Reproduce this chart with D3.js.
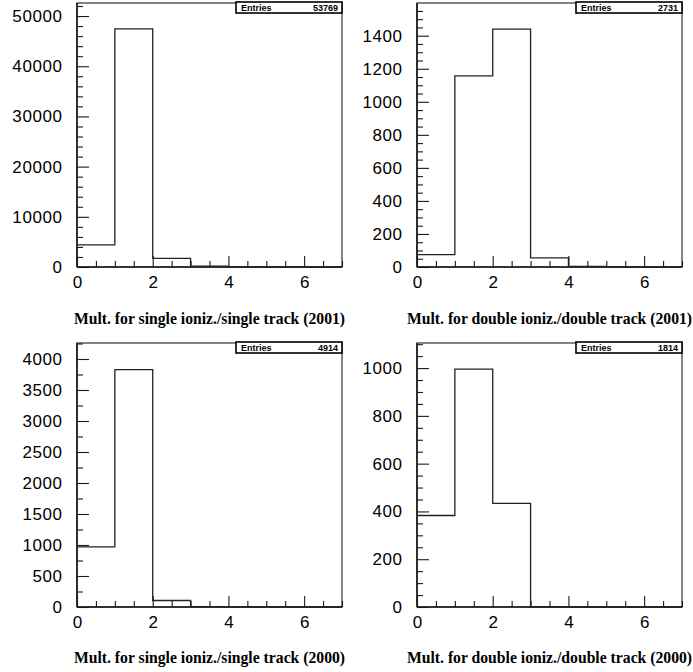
<!DOCTYPE html>
<html>
<head>
<meta charset="utf-8">
<script src="https://cdn.jsdelivr.net/npm/d3@7/dist/d3.min.js"></script>
<style>
  html, body { margin: 0; padding: 0; background: #fff; }
  svg { display: block; }
</style>
</head>
<body>
<script>
// ---- data ----
const binEdges = [0, 1, 2, 3, 4, 5, 6, 7];
const single2001 = [4400, 47450, 1700, 180, 30, 7, 2];
const double2001 = [75, 1157, 1440, 55, 3, 1, 0];
const single2000 = [970, 3830, 105, 6, 2, 1, 0];
const double2000 = [383, 996, 434, 1, 0, 0, 0];
const entries = [53769, 2731, 4914, 1814];
const titles = [
  "Mult. for single ioniz./single track (2001)",
  "Mult. for double ioniz./double track (2001)",
  "Mult. for single ioniz./single track (2000)",
  "Mult. for double ioniz./double track (2000)"
];
const xTickLabels = [0, 2, 4, 6];
const yTicks1 = [0, 10000, 20000, 30000, 40000, 50000];
const yTicks2 = [0, 200, 400, 600, 800, 1000, 1200, 1400];
const yTicks3 = [0, 500, 1000, 1500, 2000, 2500, 3000, 3500, 4000];
const yTicks4 = [0, 200, 400, 600, 800, 1000];

// ---- layout ----
const W = 693, H = 672;
const panels = [
  { data: single2001, ticks: yTicks1, minor: 2000, top: 52600, x0: 77, x1: 342, y0: 3, y1: 267, tb: 324 },
  { data: double2001, ticks: yTicks2, minor: 50, top: 1598, x0: 417, x1: 682, y0: 3, y1: 267, tb: 324 },
  { data: single2000, ticks: yTicks3, minor: 250, top: 4258, x0: 77, x1: 342, y0: 343, y1: 607, tb: 663 },
  { data: double2000, ticks: yTicks4, minor: 50, top: 1105, x0: 417, x1: 682, y0: 343, y1: 607, tb: 663 }
];

const svg = d3.select("body").append("svg").attr("width", W).attr("height", H);
const ink = "#1a1a1a";
const sans = "'Liberation Sans', Arial, sans-serif";

panels.forEach((p, i) => {
  const x = d3.scaleLinear().domain([0, 7]).range([p.x0, p.x1]);
  const y = d3.scaleLinear().domain([0, p.top]).range([p.y1, p.y0]);
  const g = svg.append("g");

  // frame
  g.append("rect").attr("x", p.x0).attr("y", p.y0)
    .attr("width", p.x1 - p.x0).attr("height", p.y1 - p.y0)
    .attr("fill", "none").attr("stroke", "#333").attr("stroke-width", 1.2);

  // minor y ticks
  const minorVals = d3.range(0, p.top + 1e-9, p.minor).filter(v => !p.ticks.includes(v));
  g.append("g").attr("transform", `translate(${p.x0},0)`)
    .call(d3.axisLeft(y).tickValues(minorVals).tickSize(-6).tickFormat(""))
    .call(s => s.select(".domain").remove())
    .call(s => s.selectAll("line").attr("stroke", ink).attr("stroke-width", 1.1));

  // major y ticks + labels
  g.append("g").attr("transform", `translate(${p.x0},0)`)
    .call(d3.axisLeft(y).tickValues(p.ticks).tickSize(-12).tickPadding(14.4).tickFormat(d3.format("d")))
    .call(s => s.select(".domain").remove())
    .call(s => s.selectAll("line").attr("stroke", ink).attr("stroke-width", 1.1))
    .call(s => s.selectAll("text").attr("fill", "#000")
      .attr("font-family", sans).attr("font-size", 17).attr("letter-spacing", "0.6px"));

  // minor x ticks
  const xMinor = d3.range(0, 7.0001, 0.5).filter(v => !xTickLabels.includes(v));
  g.append("g").attr("transform", `translate(0,${p.y1})`)
    .call(d3.axisBottom(x).tickValues(xMinor).tickSize(-6).tickFormat(""))
    .call(s => s.select(".domain").remove())
    .call(s => s.selectAll("line").attr("stroke", ink).attr("stroke-width", 1.1));

  // major x ticks + labels
  g.append("g").attr("transform", `translate(0,${p.y1})`)
    .call(d3.axisBottom(x).tickValues(xTickLabels).tickSize(-11).tickPadding(9).tickFormat(d3.format("d")))
    .call(s => s.select(".domain").remove())
    .call(s => s.selectAll("line").attr("stroke", ink).attr("stroke-width", 1.1))
    .call(s => s.selectAll("text").attr("fill", "#000")
      .attr("font-family", sans).attr("font-size", 17));

  // axis lines (left & bottom, darker)
  g.append("line").attr("x1", p.x0).attr("x2", p.x0).attr("y1", p.y0).attr("y2", p.y1)
    .attr("stroke", ink).attr("stroke-width", 1.6);
  g.append("line").attr("x1", p.x0).attr("x2", p.x1).attr("y1", p.y1).attr("y2", p.y1)
    .attr("stroke", ink).attr("stroke-width", 1.6);

  // histogram step line
  const pts = binEdges.map((e, k) => [e, k < p.data.length ? p.data[k] : p.data[p.data.length - 1]]);
  const line = d3.line().x(d => x(d[0])).y(d => y(d[1])).curve(d3.curveStepAfter);
  g.append("path").datum(pts).attr("d", line)
    .attr("fill", "none").attr("stroke", "#222").attr("stroke-width", 1.3);

  // stat box
  const bw = 106, bh = 11;
  const bx = p.x1 - bw, by = p.y0 - 1;
  g.append("rect").attr("x", bx).attr("y", by).attr("width", bw).attr("height", bh)
    .attr("fill", "#fff").attr("stroke", "#000").attr("stroke-width", 1.6);
  g.append("text").attr("x", bx + 5).attr("y", by + 8.8)
    .attr("font-family", sans).attr("font-weight", "bold")
    .attr("font-size", 9).text("Entries");
  g.append("text").attr("x", bx + bw - 4).attr("y", by + 8.8).attr("text-anchor", "end")
    .attr("font-family", sans).attr("font-weight", "bold")
    .attr("font-size", 9).text(entries[i]);

  // title
  g.append("text").attr("x", (p.x0 + p.x1) / 2).attr("y", p.tb)
    .attr("text-anchor", "middle")
    .attr("font-family", "'Liberation Serif', 'Times New Roman', serif").attr("font-weight", "bold")
    .attr("font-size", 15.7).text(titles[i]);
});
</script>
</body>
</html>
